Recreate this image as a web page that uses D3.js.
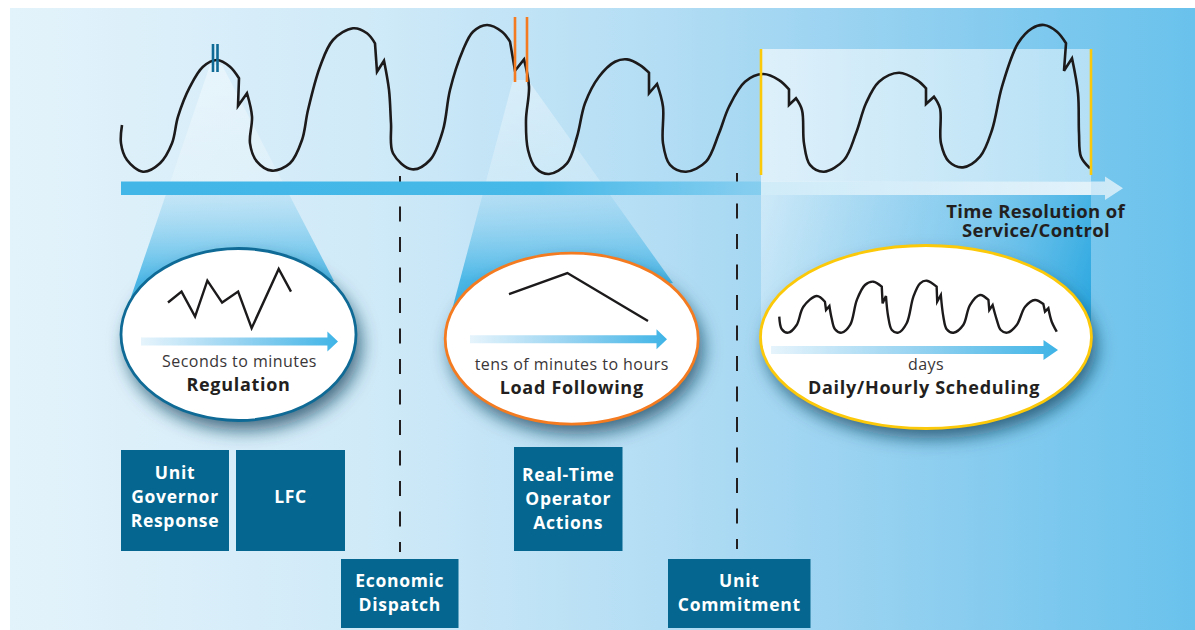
<!DOCTYPE html>
<html><head><meta charset="utf-8">
<script src="https://cdn.jsdelivr.net/npm/d3@7/dist/d3.min.js"></script>
<style>html,body{margin:0;padding:0;background:#fff;}svg{display:block;}</style>
</head><body>
<svg id="chart" width="1195" height="630"></svg>
<script>
// ---------------- DATA ----------------
// System load over time (time units 0..97, load 0..100)
const curveTime = [0.2,0.1,0.7,2.3,4.0,5.2,5.8,7.0,8.3,9.7,11.0,11.9,11.8,12.7,13.2,13.0,13.7,15.2,17.0,18.2,18.8,20.0,21.3,23.3,24.7,25.5,25.7,26.4,26.9,27.1,27.3,29.2,31.0,32.3,33.0,34.3,35.3,36.7,38.2,39.0,39.5,40.4,40.9,40.6,40.8,41.6,42.9,44.7,45.7,46.5,47.9,49.5,50.7,52.0,52.9,52.9,53.7,54.3,54.3,55.0,56.6,58.6,59.9,60.9,62.5,64.3,65.9,66.9,66.9,67.6,68.2,68.4,69.0,70.4,72.4,73.6,74.6,75.9,77.9,79.7,80.6,80.6,81.4,82.0,82.1,82.9,84.3,86.0,87.2,88.2,89.8,91.2,92.4,93.7,94.6,94.4,95.2,95.8,95.9,96.1,97.0];
const curveLoad = [33.3,21.1,10,2.2,7.8,21.1,38.9,58.9,72.2,76.7,72.2,64.5,46.0,54.5,38.9,21.1,8.9,2.9,7.8,23.3,43.3,72.2,90.0,97.8,94.5,87.8,68.9,76.2,56.7,34.5,14.5,3.8,10.0,30.0,56.7,83.3,95.5,100,95.5,88.9,69.5,77.1,58.9,36.7,16.7,4.5,0.7,7.8,25.5,47.8,65.5,75.5,77.1,73.3,68.2,54.5,60.7,45.5,21.1,6.7,2.2,8.9,27.8,45.5,62.2,67.3,63.3,57.1,46.7,51.1,43.3,21.1,6.7,2.2,10.0,27.8,47.8,62.2,68.2,63.3,57.8,47.3,52.2,44.5,21.1,8.9,5.1,12.2,30.0,58.9,87.8,97.8,100,95.5,87.8,69.5,77.8,54.5,27.8,12.2,4.5];
const curveCorners = [11,12,13,25,26,27,39,40,41,54,55,56,67,68,69,80,81,82,94,95,96];

// Multi-day trace (local units 0..100)
const dayTime = [0.1,1.0,3.3,6.3,8.7,13.5,16.4,16.8,18.0,18.8,20.0,22.4,25.4,27.8,30.7,33.7,36.7,37.0,38.2,39.0,40.3,42.6,45.6,48.0,50.4,52.8,56.3,56.5,57.8,58.7,59.9,62.3,65.8,68.2,71.8,74.8,75.1,76.3,77.8,79.2,81.5,84.9,87.9,91.4,94.4,95.0,96.2,97.4,99.2];
const dayLoad = [30.8,7.0,0.6,15.1,49.6,69.8,59.1,43.4,50.9,27.7,7.0,0.6,15.1,62.3,90.6,96.8,87.4,56.0,69.8,30.8,5.7,0.6,18.3,68.5,93.8,98.7,87.4,59.1,71.7,30.8,7.0,0.6,15.1,52.8,71.7,62.3,43.4,52.8,24.5,5.7,0.6,15.1,49.6,62.3,54.7,40.2,46.6,21.3,2.5];
const dayCorners = [6,7,8,16,17,18,26,27,28,35,36,37,44,45,46];

// Regulation zig-zag (local units 0..10)
const regTime = [0,1.1,2.2,3.2,4.4,5.7,6.8,9.0,10];
const regValue = [4.5,6.3,2.2,8.1,4.5,6.3,0.3,10,6.3];
// Load-following ramp (local units 0..10)
const lfTime = [0,4.2,10];
const lfValue = [5.6,10,0];

// Windows on the time axis
const windowStart = [9.3, 39.5, 64.1];
const windowEnd = [9.75, 40.7, 97.1];
const boundaryTimes = [28, 61.7];

const timescaleLabels = ["Seconds to minutes","tens of minutes to hours","days"];
const serviceLabels = ["Regulation","Load Following","Daily/Hourly Scheduling"];
const controlLabels = [["Unit","Governor","Response"],["LFC"],["Economic","Dispatch"],["Real-Time","Operator","Actions"],["Unit","Commitment"]];
const axisTitle = ["Time Resolution of","Service/Control"];

// ---------------- LAYOUT ----------------
const W = 1195, H = 630;
const FONT = "'Open Sans', 'DejaVu Sans', sans-serif";
const svg = d3.select("#chart");
const defs = svg.append("defs");

const x = d3.scaleLinear().domain([0,97]).range([120,1090]);
const y = d3.scaleLinear().domain([0,100]).range([175,25]);

function grad(id, x1,y1,x2,y2, stops, user){
  const g = defs.append("linearGradient").attr("id",id)
    .attr("x1",x1).attr("y1",y1).attr("x2",x2).attr("y2",y2);
  if (user) g.attr("gradientUnits","userSpaceOnUse");
  stops.forEach(s=>g.append("stop").attr("offset",s[0]).attr("stop-color",s[1]).attr("stop-opacity",s[2]===undefined?1:s[2]));
}
grad("bg","0","0","1","0",[[0,"#e3f3fb"],[0.3,"#d0eaf8"],[0.55,"#b3ddf4"],[0.75,"#93d0f0"],[0.88,"#7cc8ee"],[1,"#69c2ec"]]);
grad("mainArrow","0","0","1","0",[[0,"#41b6e7"],[0.42,"#47b9e8"],[0.62,"#82ccef"],[0.85,"#b3def4"],[1,"#cfeaf8"]]);
grad("smallArrow","0","0","1","0",[[0,"#e6f4fc"],[0.5,"#97d3f1"],[1,"#3fb4e6"]]);
grad("cone","0",60,"0",300,[[0,"#ffffff",0.4],[0.5,"#ffffff",0.22],[0.56,"#8fd0f0",0.3],[0.92,"#3cb2e5",0.9],[1,"#3cb2e5",0.95]],true);
grad("schedTop","0","0","1","0",[[0,"#ffffff",0.62],[1,"#ffffff",0.45]]);
grad("schedLow",761,190,1091,300,[[0,"#ffffff",0.45],[0.45,"#9ad4f1",0.35],[1,"#2aa7e0",0.95]],true);

const f = defs.append("filter").attr("id","shadow").attr("x","-30%").attr("y","-30%").attr("width","160%").attr("height","170%");
f.append("feDropShadow").attr("dx",5).attr("dy",10).attr("stdDeviation",9).attr("flood-color","#12405c").attr("flood-opacity",0.75);

// background
svg.append("rect").attr("x",10).attr("y",8).attr("width",W-10).attr("height",H-8).attr("fill","url(#bg)");

// cones
const cones = [
  [[210,65],[222,65],[334,281],[131,297]],
  [[513,80],[528,80],[673,283],[452,310]]
];
svg.selectAll("path.cone").data(cones).join("path").attr("class","cone")
  .attr("d", d=>d3.line()(d)+"Z").attr("fill","url(#cone)");

// scheduling window lower beam
svg.append("rect").attr("x",x(windowStart[2])).attr("y",181)
  .attr("width",x(windowEnd[2])-x(windowStart[2])).attr("height",160).attr("fill","url(#schedLow)");

// dashed boundary lines
const dashY = [[176,552],[173,549]];
svg.selectAll("line.bound").data(boundaryTimes).join("line").attr("class","bound")
  .attr("x1",d=>x(d)).attr("x2",d=>x(d))
  .attr("y1",(d,i)=>dashY[i][0]).attr("y2",(d,i)=>dashY[i][1])
  .attr("stroke","#231f20").attr("stroke-width",2).attr("stroke-dasharray","15,15.5");

// main arrow
const aY = 188.3;
svg.append("path").attr("d",
  `M${x(0)+1},${aY-6.8} H1105 V${aY-11.8} L1123,${aY} L1105,${aY+11.8} V${aY+6.8} H${x(0)+1} Z`)
  .attr("fill","url(#mainArrow)");

// scheduling window upper box (over arrow)
svg.append("rect").attr("x",x(windowStart[2])).attr("y",49)
  .attr("width",x(windowEnd[2])-x(windowStart[2])).attr("height",146).attr("fill","url(#schedTop)");

// curve helper: smooth runs split at corner points
function cornerPath(xs, ys, corners, sx, sy){
  const pts = xs.map((t,i)=>[sx(t), sy(ys[i]), corners.includes(i)]);
  const runs = []; let run = [];
  pts.forEach((p,i)=>{
    run.push(p);
    if (p[2] && run.length>1){ runs.push(run); run=[p]; }
  });
  if (run.length>1) runs.push(run);
  const line = d3.line().x(p=>p[0]).y(p=>p[1]).curve(d3.curveCatmullRom.alpha(0.5));
  return runs.map((r,k)=>{ const s=line(r); return k===0? s : s.replace(/^M/,"L"); }).join("");
}

svg.append("path").attr("d",cornerPath(curveTime,curveLoad,curveCorners,x,y))
  .attr("fill","none").attr("stroke","#1c1a1a").attr("stroke-width",2.6).attr("stroke-linejoin","miter");

// window markers
const markerColors = ["#0f6b96","#f47b20","#fcc80a"];
const markerY = [[44,72],[17,82],[49,175]];
windowStart.forEach((s,i)=>{
  [s, windowEnd[i]].forEach(t=>{
    svg.append("line").attr("x1",x(t)).attr("x2",x(t)).attr("y1",markerY[i][0]).attr("y2",markerY[i][1])
      .attr("stroke",markerColors[i]).attr("stroke-width",2.6);
  });
});

// axis title (two separate lines)
const titleX = [1125, 1110], titleY = [218, 237];
svg.selectAll("text.axt").data(axisTitle).join("text").attr("class","axt")
  .attr("x",(d,i)=>titleX[i]).attr("y",(d,i)=>titleY[i]).attr("text-anchor","end")
  .attr("font-family",FONT).attr("font-weight",700).attr("font-size",18.5)
  .attr("letter-spacing",0.35).attr("fill","#231f20").text(d=>d);

// ellipses
const ell = [
  {cx:238.5, cy:334.5, rx:117.5, ry:86, a0:141, a1:338, ay:341.5, hl:10.6, sub:367, main:391, box:[168,291,330,269], dom:[0,10]},
  {cx:571.7, cy:338.7, rx:126.5, ry:85.5, a0:470, a1:667, ay:339.2, hl:10.5, sub:370, main:393.5, box:[509,648,321,273], dom:[0,10]},
  {cx:926, cy:337, rx:165.5, ry:91.5, a0:771, a1:1058, ay:350, hl:14.5, sub:369.5, main:393.5, box:[779,1059,333,280], dom:[0,100]}
];
const traces = [
  {t:regTime, v:regValue, c:[]},
  {t:lfTime, v:lfValue, c:[]},
  {t:dayTime, v:dayLoad, c:dayCorners}
];
ell.forEach((e,i)=>{
  const g = svg.append("g");
  g.append("ellipse").attr("cx",e.cx).attr("cy",e.cy).attr("rx",e.rx).attr("ry",e.ry)
    .attr("fill","#fff").attr("filter","url(#shadow)");
  g.append("ellipse").attr("cx",e.cx).attr("cy",e.cy).attr("rx",e.rx).attr("ry",e.ry)
    .attr("fill","#fff").attr("stroke",markerColors[i]).attr("stroke-width",2.8);
  const lx = d3.scaleLinear().domain(e.dom).range([e.box[0],e.box[1]]);
  const ly = d3.scaleLinear().domain(e.dom).range([e.box[2],e.box[3]]);
  const tr = traces[i];
  const d = tr.c.length ? cornerPath(tr.t,tr.v,tr.c,lx,ly)
    : d3.line().x((t,k)=>lx(t)).y((t,k)=>ly(tr.v[k]))(tr.t);
  g.append("path").attr("d",d).attr("fill","none").attr("stroke","#1c1a1a")
    .attr("stroke-width",2.4).attr("stroke-linejoin","miter");
  // small arrow
  g.append("path").attr("d",
    `M${e.a0},${e.ay-4} H${e.a1-e.hl} V${e.ay-10} L${e.a1},${e.ay} L${e.a1-e.hl},${e.ay+10} V${e.ay+4} H${e.a0} Z`)
    .attr("fill","url(#smallArrow)");
  g.append("text").attr("x",e.cx+(i===0?1:0)).attr("y",e.sub).attr("text-anchor","middle")
    .attr("font-family",FONT).attr("font-weight",400).attr("font-size",16).attr("letter-spacing",0.45)
    .attr("fill","#3a3637").text(timescaleLabels[i]);
  g.append("text").attr("x",e.cx+(i===2?-2:0)).attr("y",e.main).attr("text-anchor","middle")
    .attr("font-family",FONT).attr("font-weight",700).attr("font-size",18).attr("letter-spacing",0.7)
    .attr("fill","#231f20").text(serviceLabels[i]);
});

// control boxes
const boxes = [
  {x0:121, x1:229, y0:450, y1:551, ty:478.5},
  {x0:236, x1:345, y0:450, y1:551, ty:503},
  {x0:341, x1:458.5, y0:559, y1:628, ty:587},
  {x0:514, x1:622.5, y0:447, y1:551, ty:480.5},
  {x0:668, x1:810.5, y0:559, y1:628, ty:587}
];
const bg = svg.selectAll("g.box").data(controlLabels).join("g").attr("class","box");
bg.append("rect").attr("x",(d,i)=>boxes[i].x0).attr("y",(d,i)=>boxes[i].y0)
  .attr("width",(d,i)=>boxes[i].x1-boxes[i].x0).attr("height",(d,i)=>boxes[i].y1-boxes[i].y0)
  .attr("fill","#05678f");
bg.append("text").attr("text-anchor","middle").attr("font-family",FONT).attr("font-weight",700)
  .attr("font-size",17.5).attr("letter-spacing",0.7).attr("fill","#fff")
  .each(function(d,i){
    const b = boxes[i], cx=(b.x0+b.x1)/2;
    d3.select(this).selectAll("tspan").data(d).join("tspan")
      .attr("x",cx).attr("y",(s,k)=>b.ty+k*24).text(s=>s);
  });
</script>
</body></html>
